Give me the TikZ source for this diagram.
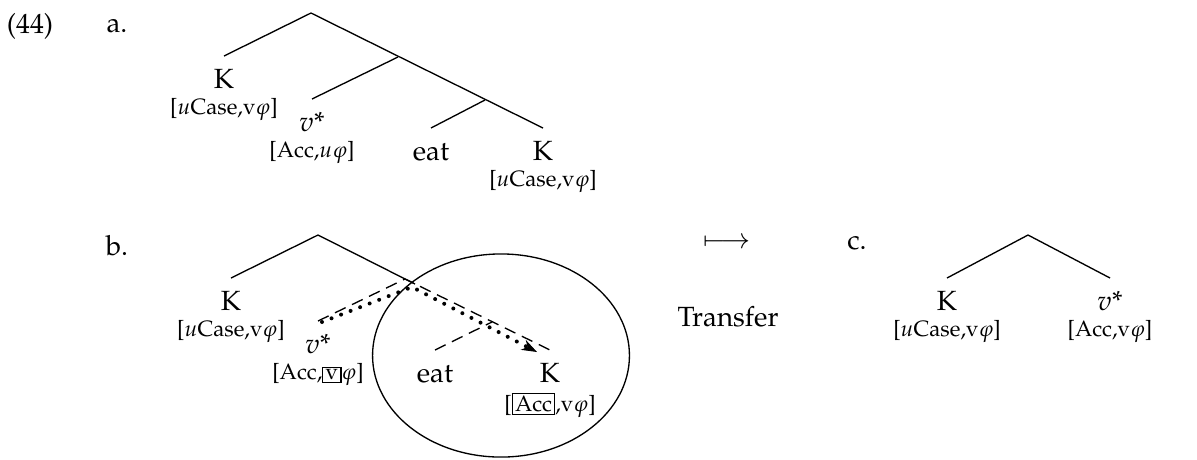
\documentclass[tikz,border=0pt,12pt]{standalone}
\usepackage[T1]{fontenc}
\usepackage{mathpazo}
\usepackage{amsmath}
\usepackage{tikz}
\usetikzlibrary{positioning,arrows.meta}
\setlength{\fboxsep}{1pt}
\setlength{\fboxrule}{0.5pt}

\begin{document}
\begin{tikzpicture}[x=0.45pt,y=-0.45pt,line width=0.6pt,font=\fontsize{12.5}{15}\selectfont,
	cat/.style={anchor=north,inner sep=0pt,outer xsep=0pt,outer ysep=6pt,text height=8.6pt,text depth=0pt},
	feat/.style={font=\fontsize{10}{12}\selectfont,inner sep=0pt},
	shared/.style={dash pattern=on 5.3pt off 3.2pt},
	agree/.style={line width=1.8pt,line cap=round,dash pattern=on 0pt off 4.6pt,-{Stealth[length=7pt,width=5pt,line width=0.4pt]}}]

	\useasboundingbox (0,0) rectangle (1197,459);

	\node (num) at (30,26) {(44)};
	\node (lbla) at (117,26) {a.};
	\node (lblb) at (117,245) {b.};
	\node (lblc) at (857,243) {c.};

	\coordinate (ra) at (311,13);
	\coordinate (ia) at (398,57);
	\coordinate (ja) at (485,100);
	\node[cat] (ka) at (224,56) {K};
	\node[feat,below=4.3pt of ka.base] (kaf) {[$u$Case,v$\varphi$]};
	\node[cat] (va) at (312,99) {$v$*};
	\node[feat,below=4.3pt of va.base] (vaf) {[Acc,$u\varphi$]};
	\node[cat] (ea) at (431,128) {eat};
	\node[cat] (oa) at (543,128) {K};
	\node[feat,below=4.3pt of oa.base] (oaf) {[$u$Case,v$\varphi$]};
	\draw (ka.north) -- (ra) -- (oa.north);
	\draw (va.north) -- (ia);
	\draw (ea.north) -- (ja);

	\coordinate (rb) at (318,235);
	\coordinate (ib) at (405,279);
	\coordinate (xb) at (415,284);
	\coordinate (jb) at (492,322);
	\node[cat] (kb) at (231,278) {K};
	\node[feat,below=4.3pt of kb.base] (kbf) {[$u$Case,v$\varphi$]};
	\node[cat] (vb) at (318,321) {$v$*};
	\node[feat,below=4.3pt of vb.base] (vbf) {[Acc,\fbox{v}$\varphi$]};
	\node[cat] (eb) at (435,350) {eat};
	\node[cat] (ob) at (550,350) {K};
	\node[feat,below=4.3pt of ob.base] (obf) {[\fbox{Acc},v$\varphi$]};
	\draw (kb.north) -- (rb) -- (xb);
	\draw[shared] (vb.north) -- (ib) -- (ob.north);
	\draw[shared] (eb.north) -- (jb);
	\draw (501,355.5) ellipse [x radius=57.8pt,y radius=45.7pt];

	\coordinate (ds) at (322,322);
	\coordinate (dt) at (412,287);
	\coordinate (de) at (537,352);
	\draw[agree] (ds) -- (dt) -- (de);

	\node (arr) at (727,243) {$\longmapsto$};
	\node (trf) at (728,317) {Transfer};

	\coordinate (rc) at (1028,235);
	\node[cat] (kc) at (947,278) {K};
	\node[feat,below=4.3pt of kc.base] (kcf) {[$u$Case,v$\varphi$]};
	\node[cat] (vc) at (1110,278) {$v$*};
	\node[feat,below=4.3pt of vc.base] (vcf) {[Acc,v$\varphi$]};
	\draw (kc.north) -- (rc) -- (vc.north);

\end{tikzpicture}
\end{document}
